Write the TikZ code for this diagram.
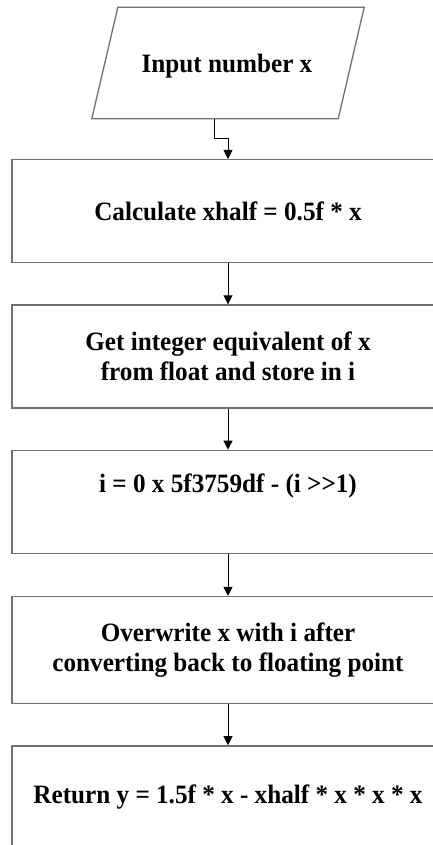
\documentclass[tikz,border=0pt]{standalone}
\usepackage{fontspec}
\setmainfont{Liberation Serif}[FakeStretch=0.95]
\usetikzlibrary{shapes}
\usetikzlibrary{arrows.meta}
\usetikzlibrary{positioning}

\definecolor{edgegray}{RGB}{112,112,112}

\begin{document}
\begin{tikzpicture}[x=1pt,y=-1pt,node distance=41pt]
\useasboundingbox (0,0) rectangle (433,845);
\clip (0,0) rectangle (433,845);

\tikzstyle{arrow}=[draw=black,line width=0.9pt,-{Triangle[length=9pt,width=9pt]}]

% Define the io style for the input node (outline drawn below)
\tikzstyle{io}=[rectangle,minimum width=246pt,minimum height=111pt,text centered,text depth=0pt,font=\bfseries\fontsize{26.5}{30}\selectfont]

% Define the process style for the step boxes
\tikzstyle{process}=[rectangle,minimum width=432pt,minimum height=103pt,text centered,align=center,draw=edgegray,line width=1.3pt,font=\bfseries\fontsize{26.5}{30}\selectfont]

% define the nodes in the flowchart
\node (input) [io] at (227,63) {Input number x};
\node (calc) [process, anchor=north] at (228,159) {Calculate xhalf = 0.5f * x};
\node (toint) [process, below=41pt of calc] {Get integer equivalent of x\\from float and store in i};
\node (magic) [process, below=41pt of toint, text height=18pt, text depth=37pt] {i = 0 x 5f3759df - (i >{}>1)};
\node (back) [process, below=42pt of magic, minimum height=107pt] {Overwrite x with i after\\converting back to floating point};
\node (result) [process, below=41pt of back, minimum height=120pt, text height=18pt, text depth=23pt] {Return y = 1.5f * x - xhalf * x * x * x};

% slanted outline of the input node
\draw[edgegray,line width=1.3pt] ([xshift=14pt]input.north west) -- ([xshift=14pt]input.north east) -- ([xshift=-12pt]input.south east) -- ([xshift=-12pt]input.south west) -- cycle;

% define the arrows between the nodes
\draw[arrow] ([xshift=-13pt]input.south) -- ++(0,20) -| (calc.north);
\draw[arrow] (calc) -- (toint);
\draw[arrow] (toint) -- (magic);
\draw[arrow] (magic) -- (back);
\draw[arrow] (back) -- (result);

\end{tikzpicture}
\end{document}
